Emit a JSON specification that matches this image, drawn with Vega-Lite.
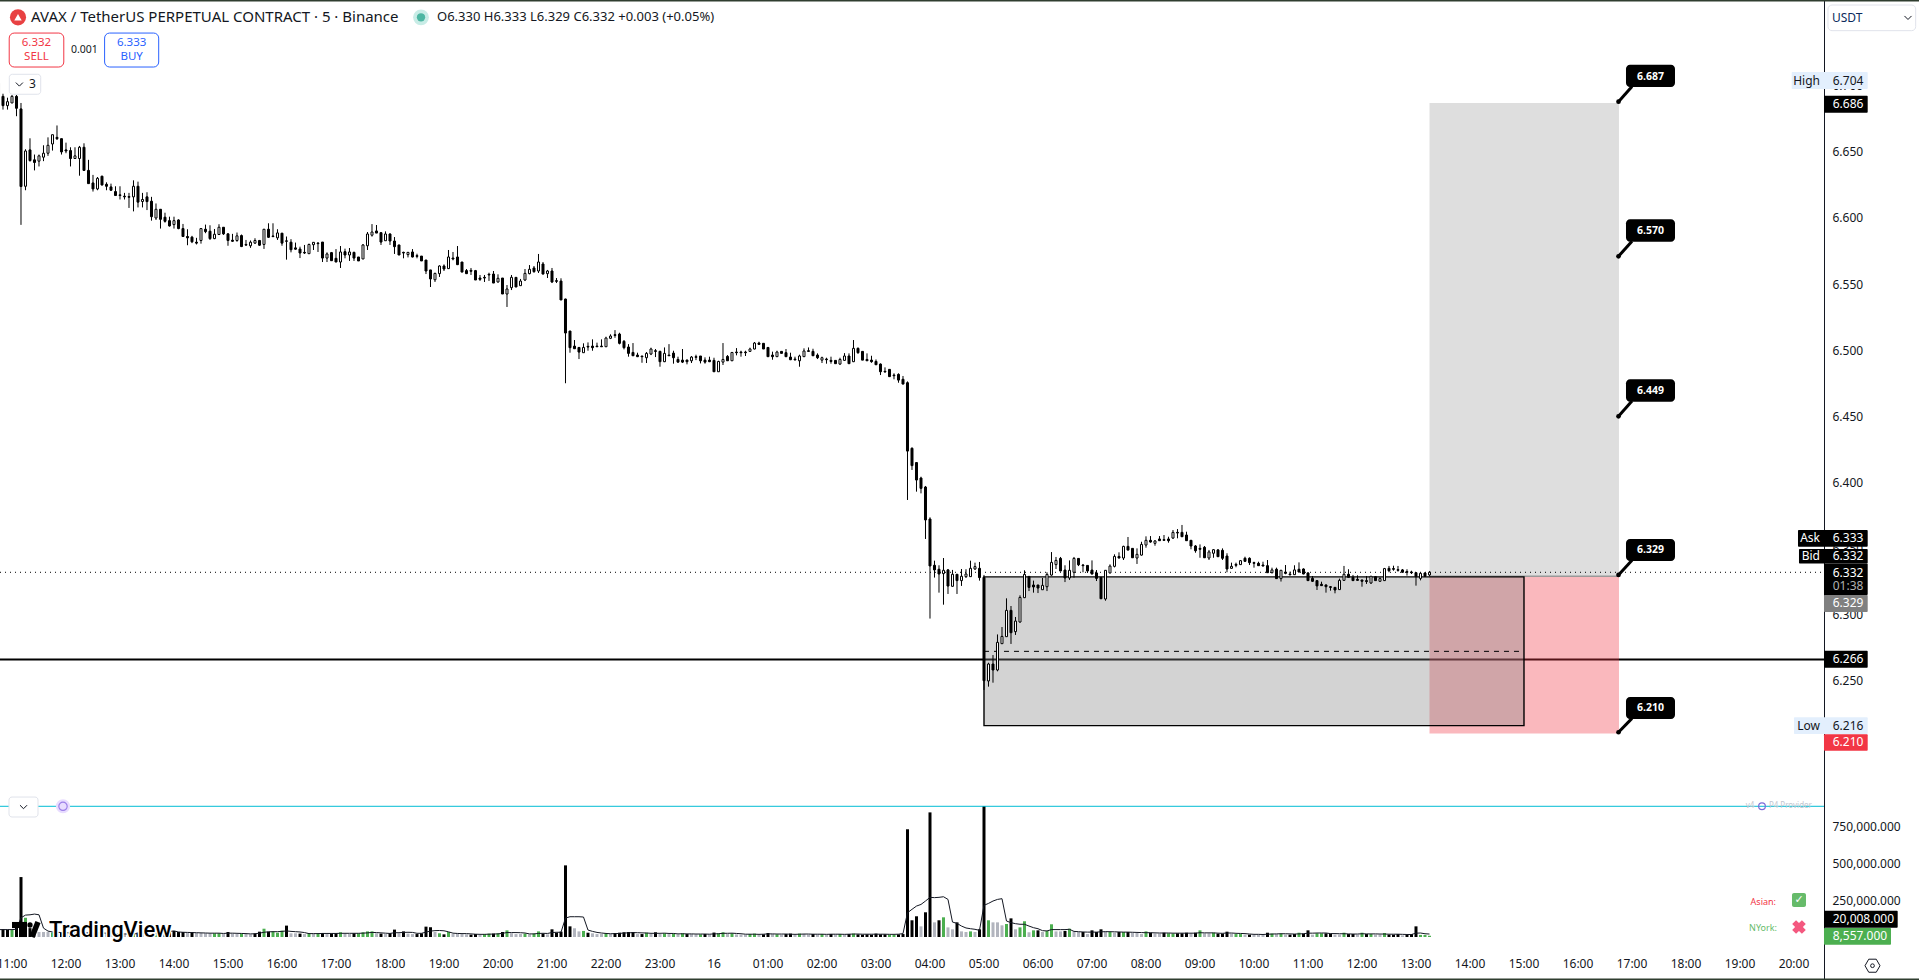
{
  "$schema": "https://vega.github.io/schema/vega-lite/v6.json",
  "width": 1919,
  "height": 980,
  "padding": 0,
  "autosize": {"type": "none"},
  "background": "white",
  "config": {"font": "Noto Sans", "view": {"stroke": null}, "text": {"baseline": "middle"}},
  "datasets": {
    "bars": [
{"t":"2026-01-15T10:45Z","o":6.702,"h":6.704,"l":6.692,"c":6.694,"v":50000,"m":50000,"k":"d"},
{"t":"2026-01-15T10:50Z","o":6.692,"h":6.694,"l":6.682,"c":6.685,"v":52000,"m":50000,"k":"d"},
{"t":"2026-01-15T10:55Z","o":6.685,"h":6.691,"l":6.682,"c":6.688,"v":50000,"m":50000,"k":"d"},
{"t":"2026-01-15T11:00Z","o":6.687,"h":6.693,"l":6.687,"c":6.692,"v":50000,"m":50000,"k":"u"},
{"t":"2026-01-15T11:05Z","o":6.692,"h":6.693,"l":6.677,"c":6.683,"v":65000,"m":52000,"k":"d"},
{"t":"2026-01-15T11:10Z","o":6.6825,"h":6.687,"l":6.5948,"c":6.6238,"v":405000,"m":130000,"k":"d"},
{"t":"2026-01-15T11:15Z","o":6.624,"h":6.652,"l":6.621,"c":6.6507,"v":130000,"m":148000,"k":"u"},
{"t":"2026-01-15T11:20Z","o":6.6515,"h":6.6603,"l":6.6427,"c":6.6434,"v":60000,"m":150000,"k":"d"},
{"t":"2026-01-15T11:25Z","o":6.644,"h":6.648,"l":6.636,"c":6.642,"v":40000,"m":155000,"k":"n"},
{"t":"2026-01-15T11:30Z","o":6.643,"h":6.648,"l":6.639,"c":6.647,"v":34000,"m":150000,"k":"n"},
{"t":"2026-01-15T11:35Z","o":6.646,"h":6.655,"l":6.643,"c":6.649,"v":34000,"m":60000,"k":"n"},
{"t":"2026-01-15T11:40Z","o":6.649,"h":6.661,"l":6.647,"c":6.655,"v":34000,"m":40000,"k":"n"},
{"t":"2026-01-15T11:45Z","o":6.656,"h":6.663,"l":6.651,"c":6.663,"v":30000,"m":34000,"k":"u"},
{"t":"2026-01-15T11:50Z","o":6.661,"h":6.67,"l":6.659,"c":6.66,"v":25000,"m":32000,"k":"n"},
{"t":"2026-01-15T11:55Z","o":6.66,"h":6.66,"l":6.648,"c":6.65,"v":30000,"m":30000,"k":"d"},
{"t":"2026-01-15T12:00Z","o":6.6515,"h":6.657,"l":6.649,"c":6.6507,"v":25000,"m":29000,"k":"n"},
{"t":"2026-01-15T12:05Z","o":6.651,"h":6.6535,"l":6.639,"c":6.645,"v":25000,"m":27000,"k":"d"},
{"t":"2026-01-15T12:10Z","o":6.645,"h":6.6535,"l":6.645,"c":6.647,"v":20000,"m":26000,"k":"n"},
{"t":"2026-01-15T12:15Z","o":6.645,"h":6.6545,"l":6.632,"c":6.6535,"v":30000,"m":26000,"k":"u"},
{"t":"2026-01-15T12:20Z","o":6.6535,"h":6.6565,"l":6.6356,"c":6.636,"v":30000,"m":26000,"k":"d"},
{"t":"2026-01-15T12:25Z","o":6.636,"h":6.644,"l":6.626,"c":6.626,"v":30000,"m":27000,"k":"d"},
{"t":"2026-01-15T12:30Z","o":6.6265,"h":6.6326,"l":6.62,"c":6.622,"v":25000,"m":27000,"k":"d"},
{"t":"2026-01-15T12:35Z","o":6.622,"h":6.631,"l":6.621,"c":6.63,"v":25000,"m":28000,"k":"u"},
{"t":"2026-01-15T12:40Z","o":6.6316,"h":6.632,"l":6.6245,"c":6.625,"v":25000,"m":27000,"k":"d"},
{"t":"2026-01-15T12:45Z","o":6.6255,"h":6.627,"l":6.621,"c":6.624,"v":25000,"m":26000,"k":"n"},
{"t":"2026-01-15T12:50Z","o":6.6235,"h":6.626,"l":6.6205,"c":6.621,"v":20000,"m":25000,"k":"n"},
{"t":"2026-01-15T12:55Z","o":6.62,"h":6.624,"l":6.617,"c":6.617,"v":20000,"m":24000,"k":"d"},
{"t":"2026-01-15T13:00Z","o":6.6175,"h":6.624,"l":6.614,"c":6.617,"v":20000,"m":22000,"k":"n"},
{"t":"2026-01-15T13:05Z","o":6.6165,"h":6.619,"l":6.614,"c":6.616,"v":20000,"m":21000,"k":"n"},
{"t":"2026-01-15T13:10Z","o":6.6162,"h":6.619,"l":6.6076,"c":6.6157,"v":20000,"m":20000,"k":"n"},
{"t":"2026-01-15T13:15Z","o":6.616,"h":6.6285,"l":6.605,"c":6.624,"v":25000,"m":21000,"k":"u"},
{"t":"2026-01-15T13:20Z","o":6.624,"h":6.6275,"l":6.608,"c":6.612,"v":30000,"m":23000,"k":"d"},
{"t":"2026-01-15T13:25Z","o":6.6125,"h":6.619,"l":6.608,"c":6.614,"v":20000,"m":23000,"k":"n"},
{"t":"2026-01-15T13:30Z","o":6.616,"h":6.6195,"l":6.606,"c":6.6124,"v":20000,"m":23000,"k":"n"},
{"t":"2026-01-15T13:35Z","o":6.6127,"h":6.616,"l":6.598,"c":6.601,"v":35000,"m":26000,"k":"d"},
{"t":"2026-01-15T13:40Z","o":6.6,"h":6.611,"l":6.5985,"c":6.6066,"v":25000,"m":26000,"k":"u"},
{"t":"2026-01-15T13:45Z","o":6.6066,"h":6.6066,"l":6.592,"c":6.599,"v":25000,"m":25000,"k":"d"},
{"t":"2026-01-15T13:50Z","o":6.6006,"h":6.604,"l":6.5965,"c":6.5975,"v":25000,"m":27000,"k":"d"},
{"t":"2026-01-15T13:55Z","o":6.598,"h":6.601,"l":6.5935,"c":6.594,"v":34000,"m":38000,"k":"d"},
{"t":"2026-01-15T14:00Z","o":6.595,"h":6.601,"l":6.592,"c":6.598,"v":41000,"m":41000,"k":"d"},
{"t":"2026-01-15T14:05Z","o":6.5985,"h":6.599,"l":6.5915,"c":6.592,"v":34000,"m":34000,"k":"d"},
{"t":"2026-01-15T14:10Z","o":6.592,"h":6.5955,"l":6.586,"c":6.586,"v":34000,"m":32000,"k":"d"},
{"t":"2026-01-15T14:15Z","o":6.586,"h":6.5915,"l":6.5794,"c":6.585,"v":29000,"m":31000,"k":"n"},
{"t":"2026-01-15T14:20Z","o":6.5855,"h":6.5865,"l":6.581,"c":6.582,"v":34000,"m":30000,"k":"d"},
{"t":"2026-01-15T14:25Z","o":6.5817,"h":6.585,"l":6.58,"c":6.581,"v":27000,"m":29000,"k":"n"},
{"t":"2026-01-15T14:30Z","o":6.583,"h":6.5923,"l":6.5806,"c":6.592,"v":27000,"m":28000,"k":"n"},
{"t":"2026-01-15T14:35Z","o":6.5915,"h":6.595,"l":6.5885,"c":6.5897,"v":25000,"m":27000,"k":"n"},
{"t":"2026-01-15T14:40Z","o":6.59,"h":6.5945,"l":6.5834,"c":6.5844,"v":25000,"m":26000,"k":"n"},
{"t":"2026-01-15T14:45Z","o":6.5844,"h":6.5917,"l":6.584,"c":6.5877,"v":25000,"m":26000,"k":"u"},
{"t":"2026-01-15T14:50Z","o":6.5875,"h":6.5953,"l":6.5872,"c":6.593,"v":25000,"m":26000,"k":"u"},
{"t":"2026-01-15T14:55Z","o":6.593,"h":6.593,"l":6.5872,"c":6.588,"v":20000,"m":24000,"k":"n"},
{"t":"2026-01-15T15:00Z","o":6.588,"h":6.5885,"l":6.579,"c":6.583,"v":34000,"m":26000,"k":"d"},
{"t":"2026-01-15T15:05Z","o":6.5832,"h":6.588,"l":6.582,"c":6.5824,"v":23000,"m":26000,"k":"n"},
{"t":"2026-01-15T15:10Z","o":6.583,"h":6.589,"l":6.582,"c":6.5865,"v":20000,"m":25000,"k":"n"},
{"t":"2026-01-15T15:15Z","o":6.5867,"h":6.5875,"l":6.578,"c":6.5784,"v":23000,"m":24000,"k":"u"},
{"t":"2026-01-15T15:20Z","o":6.58,"h":6.5834,"l":6.579,"c":6.5795,"v":20000,"m":23000,"k":"n"},
{"t":"2026-01-15T15:25Z","o":6.579,"h":6.583,"l":6.5774,"c":6.5817,"v":18000,"m":21000,"k":"n"},
{"t":"2026-01-15T15:30Z","o":6.581,"h":6.5847,"l":6.5804,"c":6.583,"v":23000,"m":22000,"k":"d"},
{"t":"2026-01-15T15:35Z","o":6.583,"h":6.5834,"l":6.579,"c":6.5794,"v":36000,"m":26000,"k":"d"},
{"t":"2026-01-15T15:40Z","o":6.58,"h":6.5917,"l":6.5766,"c":6.5915,"v":56000,"m":32000,"k":"u"},
{"t":"2026-01-15T15:45Z","o":6.5915,"h":6.596,"l":6.585,"c":6.5854,"v":36000,"m":35000,"k":"d"},
{"t":"2026-01-15T15:50Z","o":6.5864,"h":6.596,"l":6.5854,"c":6.586,"v":38000,"m":36000,"k":"u"},
{"t":"2026-01-15T15:55Z","o":6.585,"h":6.5915,"l":6.5834,"c":6.5887,"v":29000,"m":36000,"k":"u"},
{"t":"2026-01-15T16:00Z","o":6.5885,"h":6.5887,"l":6.579,"c":6.581,"v":43000,"m":38000,"k":"u"},
{"t":"2026-01-15T16:05Z","o":6.5827,"h":6.586,"l":6.5685,"c":6.5824,"v":77000,"m":41000,"k":"d"},
{"t":"2026-01-15T16:10Z","o":6.5817,"h":6.584,"l":6.574,"c":6.576,"v":25000,"m":38000,"k":"n"},
{"t":"2026-01-15T16:15Z","o":6.5774,"h":6.5814,"l":6.576,"c":6.5764,"v":25000,"m":36000,"k":"n"},
{"t":"2026-01-15T16:20Z","o":6.5765,"h":6.5783,"l":6.5697,"c":6.5735,"v":23000,"m":34000,"k":"d"},
{"t":"2026-01-15T16:25Z","o":6.574,"h":6.5796,"l":6.5728,"c":6.5735,"v":20000,"m":30000,"k":"n"},
{"t":"2026-01-15T16:30Z","o":6.573,"h":6.5806,"l":6.5728,"c":6.58,"v":25000,"m":23000,"k":"u"},
{"t":"2026-01-15T16:35Z","o":6.5798,"h":6.5818,"l":6.5758,"c":6.5816,"v":23000,"m":23000,"k":"n"},
{"t":"2026-01-15T16:40Z","o":6.581,"h":6.5818,"l":6.5743,"c":6.5806,"v":25000,"m":23000,"k":"u"},
{"t":"2026-01-15T16:45Z","o":6.5818,"h":6.5818,"l":6.5667,"c":6.5697,"v":27000,"m":24000,"k":"d"},
{"t":"2026-01-15T16:50Z","o":6.5697,"h":6.574,"l":6.5667,"c":6.5728,"v":20000,"m":24000,"k":"n"},
{"t":"2026-01-15T16:55Z","o":6.5738,"h":6.5743,"l":6.5675,"c":6.5677,"v":25000,"m":24000,"k":"d"},
{"t":"2026-01-15T17:00Z","o":6.5695,"h":6.5765,"l":6.5667,"c":6.5667,"v":25000,"m":24000,"k":"d"},
{"t":"2026-01-15T17:05Z","o":6.5667,"h":6.5788,"l":6.5622,"c":6.5743,"v":32000,"m":25000,"k":"u"},
{"t":"2026-01-15T17:10Z","o":6.5745,"h":6.5768,"l":6.5695,"c":6.572,"v":23000,"m":25000,"k":"n"},
{"t":"2026-01-15T17:15Z","o":6.572,"h":6.5773,"l":6.5675,"c":6.5743,"v":20000,"m":25000,"k":"n"},
{"t":"2026-01-15T17:20Z","o":6.574,"h":6.5745,"l":6.5675,"c":6.5697,"v":25000,"m":25000,"k":"d"},
{"t":"2026-01-15T17:25Z","o":6.5705,"h":6.5705,"l":6.5675,"c":6.5675,"v":25000,"m":25000,"k":"u"},
{"t":"2026-01-15T17:30Z","o":6.569,"h":6.5803,"l":6.569,"c":6.5796,"v":32000,"m":26000,"k":"u"},
{"t":"2026-01-15T17:35Z","o":6.579,"h":6.5894,"l":6.5758,"c":6.5879,"v":38000,"m":28000,"k":"u"},
{"t":"2026-01-15T17:40Z","o":6.587,"h":6.5954,"l":6.5859,"c":6.5894,"v":38000,"m":31000,"k":"u"},
{"t":"2026-01-15T17:45Z","o":6.5902,"h":6.5947,"l":6.5886,"c":6.5886,"v":25000,"m":30000,"k":"n"},
{"t":"2026-01-15T17:50Z","o":6.5889,"h":6.5891,"l":6.5796,"c":6.5818,"v":23000,"m":28000,"k":"d"},
{"t":"2026-01-15T17:55Z","o":6.5828,"h":6.5899,"l":6.5826,"c":6.5879,"v":20000,"m":26000,"k":"n"},
{"t":"2026-01-15T18:00Z","o":6.5879,"h":6.5884,"l":6.5796,"c":6.5826,"v":25000,"m":24000,"k":"d"},
{"t":"2026-01-15T18:05Z","o":6.5826,"h":6.5856,"l":6.5728,"c":6.5783,"v":50000,"m":29000,"k":"d"},
{"t":"2026-01-15T18:10Z","o":6.5796,"h":6.5796,"l":6.572,"c":6.572,"v":25000,"m":29000,"k":"n"},
{"t":"2026-01-15T18:15Z","o":6.574,"h":6.5745,"l":6.5695,"c":6.5735,"v":38000,"m":31000,"k":"d"},
{"t":"2026-01-15T18:20Z","o":6.5723,"h":6.5743,"l":6.5702,"c":6.574,"v":23000,"m":32000,"k":"n"},
{"t":"2026-01-15T18:25Z","o":6.5743,"h":6.5765,"l":6.5702,"c":6.5705,"v":20000,"m":31000,"k":"n"},
{"t":"2026-01-15T18:30Z","o":6.5715,"h":6.573,"l":6.5695,"c":6.571,"v":20000,"m":25000,"k":"d"},
{"t":"2026-01-15T18:35Z","o":6.5712,"h":6.5712,"l":6.5675,"c":6.5675,"v":25000,"m":25000,"k":"d"},
{"t":"2026-01-15T18:40Z","o":6.5682,"h":6.5682,"l":6.5576,"c":6.5599,"v":70000,"m":33000,"k":"d"},
{"t":"2026-01-15T18:45Z","o":6.5607,"h":6.5607,"l":6.5478,"c":6.5539,"v":66000,"m":40000,"k":"d"},
{"t":"2026-01-15T18:50Z","o":6.5533,"h":6.5586,"l":6.5516,"c":6.5581,"v":34000,"m":43000,"k":"n"},
{"t":"2026-01-15T18:55Z","o":6.5579,"h":6.5642,"l":6.5554,"c":6.5637,"v":25000,"m":44000,"k":"u"},
{"t":"2026-01-15T19:00Z","o":6.5637,"h":6.5649,"l":6.5599,"c":6.5614,"v":18000,"m":42000,"k":"d"},
{"t":"2026-01-15T19:05Z","o":6.5617,"h":6.5758,"l":6.5614,"c":6.5705,"v":34000,"m":35000,"k":"u"},
{"t":"2026-01-15T19:10Z","o":6.5697,"h":6.5743,"l":6.568,"c":6.569,"v":20000,"m":26000,"k":"n"},
{"t":"2026-01-15T19:15Z","o":6.5705,"h":6.5788,"l":6.5644,"c":6.5647,"v":23000,"m":24000,"k":"n"},
{"t":"2026-01-15T19:20Z","o":6.5667,"h":6.5667,"l":6.5591,"c":6.5591,"v":20000,"m":23000,"k":"n"},
{"t":"2026-01-15T19:25Z","o":6.5602,"h":6.5614,"l":6.5576,"c":6.5579,"v":18000,"m":23000,"k":"n"},
{"t":"2026-01-15T19:30Z","o":6.5604,"h":6.5622,"l":6.5569,"c":6.5597,"v":16000,"m":21000,"k":"d"},
{"t":"2026-01-15T19:35Z","o":6.5602,"h":6.5607,"l":6.5531,"c":6.5531,"v":20000,"m":19000,"k":"d"},
{"t":"2026-01-15T19:40Z","o":6.5546,"h":6.5569,"l":6.5524,"c":6.5536,"v":16000,"m":18000,"k":"n"},
{"t":"2026-01-15T19:45Z","o":6.5551,"h":6.5569,"l":6.5516,"c":6.5546,"v":20000,"m":18000,"k":"u"},
{"t":"2026-01-15T19:50Z","o":6.5574,"h":6.5586,"l":6.5524,"c":6.5569,"v":23000,"m":19000,"k":"u"},
{"t":"2026-01-15T19:55Z","o":6.5576,"h":6.5599,"l":6.5508,"c":6.5508,"v":23000,"m":20000,"k":"d"},
{"t":"2026-01-15T20:00Z","o":6.5516,"h":6.5574,"l":6.5511,"c":6.5544,"v":25000,"m":21000,"k":"u"},
{"t":"2026-01-15T20:05Z","o":6.5546,"h":6.5546,"l":6.5425,"c":6.5425,"v":34000,"m":25000,"k":"d"},
{"t":"2026-01-15T20:10Z","o":6.5425,"h":6.5493,"l":6.5327,"c":6.5463,"v":45000,"m":30000,"k":"u"},
{"t":"2026-01-15T20:15Z","o":6.5473,"h":6.5569,"l":6.5455,"c":6.5551,"v":25000,"m":30000,"k":"n"},
{"t":"2026-01-15T20:20Z","o":6.5551,"h":6.5551,"l":6.5478,"c":6.5478,"v":20000,"m":30000,"k":"n"},
{"t":"2026-01-15T20:25Z","o":6.5488,"h":6.5539,"l":6.5486,"c":6.5523,"v":20000,"m":29000,"k":"n"},
{"t":"2026-01-15T20:30Z","o":6.5531,"h":6.5614,"l":6.5523,"c":6.5581,"v":23000,"m":27000,"k":"u"},
{"t":"2026-01-15T20:35Z","o":6.5579,"h":6.5644,"l":6.5574,"c":6.5612,"v":18000,"m":21000,"k":"n"},
{"t":"2026-01-15T20:40Z","o":6.5622,"h":6.5637,"l":6.5586,"c":6.5594,"v":23000,"m":21000,"k":"u"},
{"t":"2026-01-15T20:45Z","o":6.5599,"h":6.5728,"l":6.5584,"c":6.5667,"v":38000,"m":24000,"k":"u"},
{"t":"2026-01-15T20:50Z","o":6.5652,"h":6.5667,"l":6.5574,"c":6.5576,"v":23000,"m":25000,"k":"d"},
{"t":"2026-01-15T20:55Z","o":6.5579,"h":6.5607,"l":6.5546,"c":6.5599,"v":18000,"m":24000,"k":"n"},
{"t":"2026-01-15T21:00Z","o":6.5599,"h":6.5622,"l":6.5508,"c":6.5516,"v":52000,"m":30000,"k":"d"},
{"t":"2026-01-15T21:05Z","o":6.5526,"h":6.5546,"l":6.5508,"c":6.5521,"v":30000,"m":32000,"k":"d"},
{"t":"2026-01-15T21:10Z","o":6.5523,"h":6.5544,"l":6.538,"c":6.538,"v":36000,"m":32000,"k":"d"},
{"t":"2026-01-15T21:15Z","o":6.5387,"h":6.539,"l":6.475,"c":6.513,"v":484000,"m":128000,"k":"d"},
{"t":"2026-01-15T21:20Z","o":6.5145,"h":6.5145,"l":6.4981,"c":6.5019,"v":72000,"m":137000,"k":"d"},
{"t":"2026-01-15T21:25Z","o":6.5031,"h":6.5077,"l":6.5011,"c":6.5011,"v":59000,"m":137000,"k":"n"},
{"t":"2026-01-15T21:30Z","o":6.5021,"h":6.5021,"l":6.4933,"c":6.4986,"v":38000,"m":137000,"k":"n"},
{"t":"2026-01-15T21:35Z","o":6.4981,"h":6.5052,"l":6.4981,"c":6.5021,"v":41000,"m":135000,"k":"u"},
{"t":"2026-01-15T21:40Z","o":6.5029,"h":6.5059,"l":6.4996,"c":6.5024,"v":29000,"m":47000,"k":"d"},
{"t":"2026-01-15T21:45Z","o":6.5031,"h":6.5082,"l":6.4996,"c":6.5019,"v":25000,"m":38000,"k":"n"},
{"t":"2026-01-15T21:50Z","o":6.5031,"h":6.5057,"l":6.5026,"c":6.5026,"v":20000,"m":31000,"k":"n"},
{"t":"2026-01-15T21:55Z","o":6.5031,"h":6.5082,"l":6.5026,"c":6.5026,"v":20000,"m":27000,"k":"n"},
{"t":"2026-01-15T22:00Z","o":6.5026,"h":6.5102,"l":6.5026,"c":6.5092,"v":25000,"m":24000,"k":"u"},
{"t":"2026-01-15T22:05Z","o":6.509,"h":6.512,"l":6.5084,"c":6.5107,"v":20000,"m":22000,"k":"n"},
{"t":"2026-01-15T22:10Z","o":6.5117,"h":6.5152,"l":6.5094,"c":6.5112,"v":27000,"m":23000,"k":"d"},
{"t":"2026-01-15T22:15Z","o":6.5122,"h":6.5132,"l":6.5044,"c":6.5052,"v":29000,"m":24000,"k":"d"},
{"t":"2026-01-15T22:20Z","o":6.5067,"h":6.5077,"l":6.5006,"c":6.5019,"v":32000,"m":27000,"k":"d"},
{"t":"2026-01-15T22:25Z","o":6.5024,"h":6.5046,"l":6.4951,"c":6.4976,"v":34000,"m":28000,"k":"d"},
{"t":"2026-01-15T22:30Z","o":6.4983,"h":6.5054,"l":6.4956,"c":6.4958,"v":34000,"m":30000,"k":"d"},
{"t":"2026-01-15T22:35Z","o":6.4963,"h":6.4981,"l":6.4948,"c":6.4951,"v":20000,"m":29000,"k":"n"},
{"t":"2026-01-15T22:40Z","o":6.4956,"h":6.4956,"l":6.4905,"c":6.4951,"v":20000,"m":28000,"k":"d"},
{"t":"2026-01-15T22:45Z","o":6.4943,"h":6.4986,"l":6.4903,"c":6.4976,"v":29000,"m":27000,"k":"u"},
{"t":"2026-01-15T22:50Z","o":6.4971,"h":6.5019,"l":6.4963,"c":6.5009,"v":23000,"m":25000,"k":"n"},
{"t":"2026-01-15T22:55Z","o":6.4996,"h":6.5009,"l":6.4948,"c":6.4991,"v":32000,"m":25000,"k":"d"},
{"t":"2026-01-15T23:00Z","o":6.4991,"h":6.4996,"l":6.4875,"c":6.4913,"v":20000,"m":25000,"k":"n"},
{"t":"2026-01-15T23:05Z","o":6.4913,"h":6.5021,"l":6.491,"c":6.4976,"v":25000,"m":26000,"k":"u"},
{"t":"2026-01-15T23:10Z","o":6.4963,"h":6.5046,"l":6.4956,"c":6.4958,"v":20000,"m":24000,"k":"n"},
{"t":"2026-01-15T23:15Z","o":6.4978,"h":6.4996,"l":6.4898,"c":6.4943,"v":23000,"m":24000,"k":"u"},
{"t":"2026-01-15T23:20Z","o":6.493,"h":6.4951,"l":6.4905,"c":6.491,"v":18000,"m":21000,"k":"n"},
{"t":"2026-01-15T23:25Z","o":6.4925,"h":6.5009,"l":6.4903,"c":6.491,"v":25000,"m":22000,"k":"u"},
{"t":"2026-01-15T23:30Z","o":6.4925,"h":6.493,"l":6.4893,"c":6.4913,"v":20000,"m":21000,"k":"d"},
{"t":"2026-01-15T23:35Z","o":6.492,"h":6.4956,"l":6.4903,"c":6.4948,"v":20000,"m":21000,"k":"n"},
{"t":"2026-01-15T23:40Z","o":6.4951,"h":6.4966,"l":6.4925,"c":6.4946,"v":18000,"m":20000,"k":"n"},
{"t":"2026-01-15T23:45Z","o":6.4956,"h":6.4956,"l":6.49,"c":6.492,"v":18000,"m":20000,"k":"u"},
{"t":"2026-01-15T23:50Z","o":6.4925,"h":6.4946,"l":6.4898,"c":6.491,"v":20000,"m":20000,"k":"d"},
{"t":"2026-01-15T23:55Z","o":6.4925,"h":6.4951,"l":6.491,"c":6.4913,"v":18000,"m":19000,"k":"n"},
{"t":"2026-01-16T00:00Z","o":6.4923,"h":6.4943,"l":6.4837,"c":6.4837,"v":30000,"m":21000,"k":"d"},
{"t":"2026-01-16T00:05Z","o":6.4837,"h":6.492,"l":6.4837,"c":6.4915,"v":25000,"m":22000,"k":"u"},
{"t":"2026-01-16T00:10Z","o":6.491,"h":6.5054,"l":6.4888,"c":6.493,"v":32000,"m":25000,"k":"u"},
{"t":"2026-01-16T00:15Z","o":6.4953,"h":6.4963,"l":6.492,"c":6.492,"v":20000,"m":25000,"k":"n"},
{"t":"2026-01-16T00:20Z","o":6.492,"h":6.4986,"l":6.4918,"c":6.4983,"v":25000,"m":26000,"k":"u"},
{"t":"2026-01-16T00:25Z","o":6.4986,"h":6.5016,"l":6.4961,"c":6.4981,"v":18000,"m":24000,"k":"n"},
{"t":"2026-01-16T00:30Z","o":6.4986,"h":6.4996,"l":6.4951,"c":6.4981,"v":16000,"m":22000,"k":"n"},
{"t":"2026-01-16T00:35Z","o":6.4986,"h":6.4996,"l":6.4956,"c":6.4981,"v":16000,"m":19000,"k":"n"},
{"t":"2026-01-16T00:40Z","o":6.4991,"h":6.5019,"l":6.4989,"c":6.5009,"v":20000,"m":19000,"k":"u"},
{"t":"2026-01-16T00:45Z","o":6.5009,"h":6.5062,"l":6.5006,"c":6.5054,"v":23000,"m":19000,"k":"u"},
{"t":"2026-01-16T00:50Z","o":6.5054,"h":6.5064,"l":6.5041,"c":6.5044,"v":16000,"m":18000,"k":"n"},
{"t":"2026-01-16T00:55Z","o":6.5052,"h":6.5052,"l":6.5009,"c":6.5009,"v":18000,"m":19000,"k":"d"},
{"t":"2026-01-16T01:00Z","o":6.5021,"h":6.5021,"l":6.4951,"c":6.4951,"v":27000,"m":21000,"k":"d"},
{"t":"2026-01-16T01:05Z","o":6.4963,"h":6.4989,"l":6.4928,"c":6.4951,"v":20000,"m":21000,"k":"n"},
{"t":"2026-01-16T01:10Z","o":6.4951,"h":6.4996,"l":6.4951,"c":6.4986,"v":18000,"m":20000,"k":"u"},
{"t":"2026-01-16T01:15Z","o":6.4991,"h":6.4994,"l":6.4976,"c":6.4976,"v":16000,"m":20000,"k":"n"},
{"t":"2026-01-16T01:20Z","o":6.4981,"h":6.5009,"l":6.4948,"c":6.4951,"v":20000,"m":20000,"k":"d"},
{"t":"2026-01-16T01:25Z","o":6.4948,"h":6.4981,"l":6.4925,"c":6.4928,"v":23000,"m":19000,"k":"d"},
{"t":"2026-01-16T01:30Z","o":6.4933,"h":6.4951,"l":6.492,"c":6.4928,"v":16000,"m":18000,"k":"n"},
{"t":"2026-01-16T01:35Z","o":6.492,"h":6.4966,"l":6.4875,"c":6.4956,"v":23000,"m":19000,"k":"u"},
{"t":"2026-01-16T01:40Z","o":6.4951,"h":6.5014,"l":6.4951,"c":6.4994,"v":20000,"m":20000,"k":"n"},
{"t":"2026-01-16T01:45Z","o":6.4996,"h":6.5021,"l":6.4989,"c":6.4991,"v":16000,"m":20000,"k":"n"},
{"t":"2026-01-16T01:50Z","o":6.4991,"h":6.5011,"l":6.4956,"c":6.4958,"v":20000,"m":19000,"k":"d"},
{"t":"2026-01-16T01:55Z","o":6.4963,"h":6.4976,"l":6.4933,"c":6.4943,"v":18000,"m":19000,"k":"n"},
{"t":"2026-01-16T02:00Z","o":6.4925,"h":6.4951,"l":6.4903,"c":6.4943,"v":20000,"m":19000,"k":"u"},
{"t":"2026-01-16T02:05Z","o":6.4933,"h":6.4943,"l":6.4898,"c":6.4928,"v":16000,"m":18000,"k":"n"},
{"t":"2026-01-16T02:10Z","o":6.4923,"h":6.4951,"l":6.4898,"c":6.4915,"v":20000,"m":19000,"k":"d"},
{"t":"2026-01-16T02:15Z","o":6.4923,"h":6.4925,"l":6.4898,"c":6.4898,"v":18000,"m":19000,"k":"n"},
{"t":"2026-01-16T02:20Z","o":6.4895,"h":6.4943,"l":6.489,"c":6.493,"v":20000,"m":19000,"k":"u"},
{"t":"2026-01-16T02:25Z","o":6.4923,"h":6.4978,"l":6.492,"c":6.4956,"v":18000,"m":18000,"k":"n"},
{"t":"2026-01-16T02:30Z","o":6.4956,"h":6.4976,"l":6.4898,"c":6.4898,"v":20000,"m":19000,"k":"d"},
{"t":"2026-01-16T02:35Z","o":6.4913,"h":6.5077,"l":6.491,"c":6.5014,"v":23000,"m":20000,"k":"u"},
{"t":"2026-01-16T02:40Z","o":6.5014,"h":6.5021,"l":6.4973,"c":6.4981,"v":18000,"m":20000,"k":"d"},
{"t":"2026-01-16T02:45Z","o":6.4991,"h":6.4991,"l":6.4925,"c":6.4925,"v":16000,"m":19000,"k":"d"},
{"t":"2026-01-16T02:50Z","o":6.493,"h":6.4976,"l":6.492,"c":6.492,"v":18000,"m":19000,"k":"d"},
{"t":"2026-01-16T02:55Z","o":6.4925,"h":6.4958,"l":6.4905,"c":6.4913,"v":16000,"m":19000,"k":"d"},
{"t":"2026-01-16T03:00Z","o":6.4915,"h":6.493,"l":6.4888,"c":6.489,"v":23000,"m":19000,"k":"d"},
{"t":"2026-01-16T03:05Z","o":6.4895,"h":6.49,"l":6.4812,"c":6.4837,"v":18000,"m":19000,"k":"d"},
{"t":"2026-01-16T03:10Z","o":6.484,"h":6.487,"l":6.4832,"c":6.4835,"v":18000,"m":19000,"k":"d"},
{"t":"2026-01-16T03:15Z","o":6.4855,"h":6.4857,"l":6.4797,"c":6.48,"v":16000,"m":18000,"k":"u"},
{"t":"2026-01-16T03:20Z","o":6.4812,"h":6.4825,"l":6.478,"c":6.4807,"v":16000,"m":18000,"k":"u"},
{"t":"2026-01-16T03:25Z","o":6.4817,"h":6.4825,"l":6.4754,"c":6.4774,"v":18000,"m":19000,"k":"d"},
{"t":"2026-01-16T03:30Z","o":6.478,"h":6.4805,"l":6.4742,"c":6.4744,"v":20000,"m":23000,"k":"d"},
{"t":"2026-01-16T03:35Z","o":6.4754,"h":6.4764,"l":6.3867,"c":6.4237,"v":728000,"m":164000,"k":"d"},
{"t":"2026-01-16T03:40Z","o":6.4258,"h":6.4265,"l":6.4094,"c":6.4127,"v":113000,"m":187000,"k":"d"},
{"t":"2026-01-16T03:45Z","o":6.415,"h":6.4154,"l":6.393,"c":6.4018,"v":140000,"m":209000,"k":"d"},
{"t":"2026-01-16T03:50Z","o":6.4033,"h":6.4043,"l":6.3917,"c":6.3955,"v":72000,"m":220000,"k":"n"},
{"t":"2026-01-16T03:55Z","o":6.3965,"h":6.3973,"l":6.3572,"c":6.3716,"v":167000,"m":243000,"k":"d"},
{"t":"2026-01-16T04:00Z","o":6.3723,"h":6.3736,"l":6.297,"c":6.3368,"v":842000,"m":268000,"k":"d"},
{"t":"2026-01-16T04:05Z","o":6.3373,"h":6.3408,"l":6.328,"c":6.3338,"v":99000,"m":266000,"k":"n"},
{"t":"2026-01-16T04:10Z","o":6.3343,"h":6.3373,"l":6.3166,"c":6.3307,"v":113000,"m":268000,"k":"d"},
{"t":"2026-01-16T04:15Z","o":6.331,"h":6.3428,"l":6.3075,"c":6.3335,"v":133000,"m":272000,"k":"u"},
{"t":"2026-01-16T04:20Z","o":6.3338,"h":6.3345,"l":6.3156,"c":6.3216,"v":65000,"m":254000,"k":"n"},
{"t":"2026-01-16T04:25Z","o":6.3214,"h":6.3338,"l":6.3211,"c":6.3305,"v":52000,"m":101000,"k":"n"},
{"t":"2026-01-16T04:30Z","o":6.3305,"h":6.3305,"l":6.3156,"c":6.3257,"v":99000,"m":92000,"k":"d"},
{"t":"2026-01-16T04:35Z","o":6.3257,"h":6.3345,"l":6.3217,"c":6.329,"v":38000,"m":74000,"k":"n"},
{"t":"2026-01-16T04:40Z","o":6.3287,"h":6.3343,"l":6.3277,"c":6.3307,"v":34000,"m":61000,"k":"n"},
{"t":"2026-01-16T04:45Z","o":6.3287,"h":6.3408,"l":6.3285,"c":6.335,"v":38000,"m":56000,"k":"u"},
{"t":"2026-01-16T04:50Z","o":6.3345,"h":6.3393,"l":6.3338,"c":6.3363,"v":34000,"m":52000,"k":"n"},
{"t":"2026-01-16T04:55Z","o":6.335,"h":6.3398,"l":6.3257,"c":6.328,"v":52000,"m":45000,"k":"d"},
{"t":"2026-01-16T05:00Z","o":6.3282,"h":6.33,"l":6.243,"c":6.25,"v":885000,"m":214000,"k":"d"},
{"t":"2026-01-16T05:05Z","o":6.2498,"h":6.2636,"l":6.2455,"c":6.2626,"v":113000,"m":227000,"k":"u"},
{"t":"2026-01-16T05:10Z","o":6.2626,"h":6.2694,"l":6.2485,"c":6.2581,"v":99000,"m":243000,"k":"n"},
{"t":"2026-01-16T05:15Z","o":6.2581,"h":6.285,"l":6.2571,"c":6.279,"v":99000,"m":254000,"k":"n"},
{"t":"2026-01-16T05:20Z","o":6.278,"h":6.2906,"l":6.2778,"c":6.2835,"v":79000,"m":259000,"k":"n"},
{"t":"2026-01-16T05:25Z","o":6.2833,"h":6.3123,"l":6.2833,"c":6.3032,"v":88000,"m":108000,"k":"u"},
{"t":"2026-01-16T05:30Z","o":6.3032,"h":6.3065,"l":6.2778,"c":6.2863,"v":126000,"m":97000,"k":"d"},
{"t":"2026-01-16T05:35Z","o":6.2871,"h":6.2982,"l":6.2846,"c":6.2951,"v":52000,"m":90000,"k":"n"},
{"t":"2026-01-16T05:40Z","o":6.2944,"h":6.3146,"l":6.2939,"c":6.313,"v":65000,"m":86000,"k":"u"},
{"t":"2026-01-16T05:45Z","o":6.3128,"h":6.3335,"l":6.3125,"c":6.3304,"v":106000,"m":86000,"k":"u"},
{"t":"2026-01-16T05:50Z","o":6.3289,"h":6.3289,"l":6.3178,"c":6.3206,"v":32000,"m":74000,"k":"n"},
{"t":"2026-01-16T05:55Z","o":6.3224,"h":6.3257,"l":6.3166,"c":6.3209,"v":45000,"m":63000,"k":"u"},
{"t":"2026-01-16T06:00Z","o":6.3224,"h":6.3224,"l":6.3163,"c":6.3201,"v":45000,"m":56000,"k":"d"},
{"t":"2026-01-16T06:05Z","o":6.3188,"h":6.3277,"l":6.3186,"c":6.3221,"v":34000,"m":43000,"k":"n"},
{"t":"2026-01-16T06:10Z","o":6.3211,"h":6.332,"l":6.3178,"c":6.3304,"v":41000,"m":41000,"k":"u"},
{"t":"2026-01-16T06:15Z","o":6.3299,"h":6.3473,"l":6.3294,"c":6.3395,"v":86000,"m":50000,"k":"u"},
{"t":"2026-01-16T06:20Z","o":6.3378,"h":6.3436,"l":6.3345,"c":6.341,"v":38000,"m":50000,"k":"n"},
{"t":"2026-01-16T06:25Z","o":6.3425,"h":6.3436,"l":6.3327,"c":6.333,"v":38000,"m":50000,"k":"n"},
{"t":"2026-01-16T06:30Z","o":6.3337,"h":6.3373,"l":6.3246,"c":6.3277,"v":41000,"m":50000,"k":"d"},
{"t":"2026-01-16T06:35Z","o":6.3277,"h":6.341,"l":6.3262,"c":6.3335,"v":56000,"m":52000,"k":"u"},
{"t":"2026-01-16T06:40Z","o":6.332,"h":6.3436,"l":6.3279,"c":6.3425,"v":38000,"m":38000,"k":"n"},
{"t":"2026-01-16T06:45Z","o":6.3425,"h":6.3428,"l":6.3367,"c":6.3377,"v":34000,"m":36000,"k":"n"},
{"t":"2026-01-16T06:50Z","o":6.3375,"h":6.3383,"l":6.332,"c":6.337,"v":34000,"m":34000,"k":"d"},
{"t":"2026-01-16T06:55Z","o":6.3372,"h":6.3372,"l":6.3315,"c":6.333,"v":20000,"m":33000,"k":"n"},
{"t":"2026-01-16T07:00Z","o":6.3337,"h":6.341,"l":6.3304,"c":6.3307,"v":45000,"m":33000,"k":"d"},
{"t":"2026-01-16T07:05Z","o":6.3315,"h":6.3337,"l":6.3254,"c":6.3274,"v":34000,"m":33000,"k":"d"},
{"t":"2026-01-16T07:10Z","o":6.3282,"h":6.3282,"l":6.3118,"c":6.312,"v":52000,"m":35000,"k":"d"},
{"t":"2026-01-16T07:15Z","o":6.3118,"h":6.3337,"l":6.3105,"c":6.3335,"v":38000,"m":36000,"k":"n"},
{"t":"2026-01-16T07:20Z","o":6.3315,"h":6.338,"l":6.3312,"c":6.3367,"v":34000,"m":36000,"k":"u"},
{"t":"2026-01-16T07:25Z","o":6.3365,"h":6.3456,"l":6.3357,"c":6.344,"v":29000,"m":35000,"k":"n"},
{"t":"2026-01-16T07:30Z","o":6.344,"h":6.3471,"l":6.3425,"c":6.3428,"v":34000,"m":34000,"k":"d"},
{"t":"2026-01-16T07:35Z","o":6.3428,"h":6.3521,"l":6.3413,"c":6.3516,"v":34000,"m":33000,"k":"u"},
{"t":"2026-01-16T07:40Z","o":6.3516,"h":6.3587,"l":6.3488,"c":6.3488,"v":34000,"m":33000,"k":"d"},
{"t":"2026-01-16T07:45Z","o":6.3501,"h":6.3501,"l":6.343,"c":6.343,"v":29000,"m":32000,"k":"n"},
{"t":"2026-01-16T07:50Z","o":6.3428,"h":6.3501,"l":6.3383,"c":6.3456,"v":29000,"m":31000,"k":"n"},
{"t":"2026-01-16T07:55Z","o":6.345,"h":6.3551,"l":6.3446,"c":6.3531,"v":20000,"m":30000,"k":"n"},
{"t":"2026-01-16T08:00Z","o":6.3526,"h":6.3592,"l":6.3506,"c":6.3562,"v":38000,"m":29000,"k":"u"},
{"t":"2026-01-16T08:05Z","o":6.3562,"h":6.3594,"l":6.3544,"c":6.3549,"v":29000,"m":29000,"k":"d"},
{"t":"2026-01-16T08:10Z","o":6.3539,"h":6.3564,"l":6.3521,"c":6.3557,"v":23000,"m":28000,"k":"n"},
{"t":"2026-01-16T08:15Z","o":6.3572,"h":6.3594,"l":6.3557,"c":6.3559,"v":23000,"m":27000,"k":"n"},
{"t":"2026-01-16T08:20Z","o":6.3567,"h":6.3602,"l":6.3559,"c":6.3562,"v":29000,"m":27000,"k":"d"},
{"t":"2026-01-16T08:25Z","o":6.3572,"h":6.3589,"l":6.3544,"c":6.3559,"v":25000,"m":27000,"k":"u"},
{"t":"2026-01-16T08:30Z","o":6.3579,"h":6.364,"l":6.3572,"c":6.3622,"v":23000,"m":26000,"k":"u"},
{"t":"2026-01-16T08:35Z","o":6.3622,"h":6.3647,"l":6.3577,"c":6.3617,"v":25000,"m":26000,"k":"d"},
{"t":"2026-01-16T08:40Z","o":6.3622,"h":6.3678,"l":6.3587,"c":6.3589,"v":25000,"m":26000,"k":"d"},
{"t":"2026-01-16T08:45Z","o":6.3602,"h":6.3627,"l":6.3557,"c":6.3559,"v":29000,"m":26000,"k":"d"},
{"t":"2026-01-16T08:50Z","o":6.3562,"h":6.3564,"l":6.3494,"c":6.3519,"v":25000,"m":26000,"k":"n"},
{"t":"2026-01-16T08:55Z","o":6.3519,"h":6.3526,"l":6.3468,"c":6.3483,"v":29000,"m":26000,"k":"d"},
{"t":"2026-01-16T09:00Z","o":6.3501,"h":6.3531,"l":6.343,"c":6.3494,"v":45000,"m":29000,"k":"u"},
{"t":"2026-01-16T09:05Z","o":6.3509,"h":6.3519,"l":6.3428,"c":6.343,"v":25000,"m":28000,"k":"n"},
{"t":"2026-01-16T09:10Z","o":6.3428,"h":6.3489,"l":6.3413,"c":6.3474,"v":25000,"m":28000,"k":"n"},
{"t":"2026-01-16T09:15Z","o":6.3464,"h":6.3496,"l":6.343,"c":6.3491,"v":29000,"m":28000,"k":"u"},
{"t":"2026-01-16T09:20Z","o":6.3489,"h":6.3496,"l":6.3436,"c":6.3438,"v":23000,"m":26000,"k":"d"},
{"t":"2026-01-16T09:25Z","o":6.3486,"h":6.3501,"l":6.3413,"c":6.3426,"v":23000,"m":25000,"k":"d"},
{"t":"2026-01-16T09:30Z","o":6.3443,"h":6.3464,"l":6.332,"c":6.3345,"v":36000,"m":27000,"k":"d"},
{"t":"2026-01-16T09:35Z","o":6.335,"h":6.3393,"l":6.3348,"c":6.3365,"v":23000,"m":27000,"k":"n"},
{"t":"2026-01-16T09:40Z","o":6.338,"h":6.3393,"l":6.3358,"c":6.3373,"v":20000,"m":25000,"k":"u"},
{"t":"2026-01-16T09:45Z","o":6.3378,"h":6.3413,"l":6.3375,"c":6.3408,"v":20000,"m":24000,"k":"u"},
{"t":"2026-01-16T09:50Z","o":6.3426,"h":6.3438,"l":6.34,"c":6.3403,"v":16000,"m":23000,"k":"n"},
{"t":"2026-01-16T09:55Z","o":6.3426,"h":6.3433,"l":6.3375,"c":6.3393,"v":16000,"m":20000,"k":"d"},
{"t":"2026-01-16T10:00Z","o":6.3393,"h":6.34,"l":6.3355,"c":6.3388,"v":16000,"m":18000,"k":"n"},
{"t":"2026-01-16T10:05Z","o":6.3388,"h":6.34,"l":6.3368,"c":6.337,"v":16000,"m":18000,"k":"n"},
{"t":"2026-01-16T10:10Z","o":6.3375,"h":6.34,"l":6.3363,"c":6.3368,"v":16000,"m":17000,"k":"n"},
{"t":"2026-01-16T10:15Z","o":6.337,"h":6.3413,"l":6.3315,"c":6.3317,"v":29000,"m":19000,"k":"d"},
{"t":"2026-01-16T10:20Z","o":6.3317,"h":6.3355,"l":6.3312,"c":6.3338,"v":23000,"m":20000,"k":"u"},
{"t":"2026-01-16T10:25Z","o":6.3343,"h":6.3355,"l":6.327,"c":6.3272,"v":20000,"m":21000,"k":"n"},
{"t":"2026-01-16T10:30Z","o":6.3272,"h":6.3338,"l":6.325,"c":6.3335,"v":23000,"m":22000,"k":"u"},
{"t":"2026-01-16T10:35Z","o":6.3322,"h":6.3375,"l":6.3305,"c":6.3312,"v":16000,"m":22000,"k":"n"},
{"t":"2026-01-16T10:40Z","o":6.3307,"h":6.3325,"l":6.3295,"c":6.3302,"v":16000,"m":21000,"k":"d"},
{"t":"2026-01-16T10:45Z","o":6.3302,"h":6.3373,"l":6.33,"c":6.3338,"v":20000,"m":20000,"k":"d"},
{"t":"2026-01-16T10:50Z","o":6.3343,"h":6.3395,"l":6.332,"c":6.3322,"v":29000,"m":21000,"k":"u"},
{"t":"2026-01-16T10:55Z","o":6.3345,"h":6.335,"l":6.3305,"c":6.3307,"v":23000,"m":22000,"k":"d"},
{"t":"2026-01-16T11:00Z","o":6.3315,"h":6.332,"l":6.3254,"c":6.3257,"v":45000,"m":26000,"k":"d"},
{"t":"2026-01-16T11:05Z","o":6.3274,"h":6.3292,"l":6.3247,"c":6.3252,"v":16000,"m":26000,"k":"n"},
{"t":"2026-01-16T11:10Z","o":6.3257,"h":6.3257,"l":6.3186,"c":6.3217,"v":25000,"m":27000,"k":"u"},
{"t":"2026-01-16T11:15Z","o":6.3229,"h":6.3249,"l":6.3217,"c":6.3219,"v":25000,"m":27000,"k":"u"},
{"t":"2026-01-16T11:20Z","o":6.3224,"h":6.3229,"l":6.3166,"c":6.3211,"v":25000,"m":27000,"k":"d"},
{"t":"2026-01-16T11:25Z","o":6.3211,"h":6.3216,"l":6.3181,"c":6.3206,"v":23000,"m":23000,"k":"d"},
{"t":"2026-01-16T11:30Z","o":6.3206,"h":6.3206,"l":6.3161,"c":6.3186,"v":16000,"m":23000,"k":"n"},
{"t":"2026-01-16T11:35Z","o":6.3189,"h":6.3272,"l":6.3186,"c":6.3259,"v":16000,"m":22000,"k":"n"},
{"t":"2026-01-16T11:40Z","o":6.3259,"h":6.3368,"l":6.3257,"c":6.3305,"v":29000,"m":22000,"k":"u"},
{"t":"2026-01-16T11:45Z","o":6.3305,"h":6.3343,"l":6.328,"c":6.3282,"v":20000,"m":21000,"k":"d"},
{"t":"2026-01-16T11:50Z","o":6.3282,"h":6.33,"l":6.3254,"c":6.3257,"v":20000,"m":20000,"k":"d"},
{"t":"2026-01-16T11:55Z","o":6.3267,"h":6.3297,"l":6.3257,"c":6.3259,"v":16000,"m":20000,"k":"n"},
{"t":"2026-01-16T12:00Z","o":6.3262,"h":6.3262,"l":6.3211,"c":6.3252,"v":29000,"m":22000,"k":"u"},
{"t":"2026-01-16T12:05Z","o":6.3257,"h":6.3292,"l":6.3232,"c":6.325,"v":20000,"m":21000,"k":"d"},
{"t":"2026-01-16T12:10Z","o":6.3239,"h":6.3292,"l":6.3232,"c":6.329,"v":20000,"m":21000,"k":"u"},
{"t":"2026-01-16T12:15Z","o":6.3287,"h":6.3292,"l":6.3254,"c":6.3257,"v":16000,"m":21000,"k":"n"},
{"t":"2026-01-16T12:20Z","o":6.3252,"h":6.3282,"l":6.325,"c":6.3272,"v":16000,"m":20000,"k":"n"},
{"t":"2026-01-16T12:25Z","o":6.3257,"h":6.3353,"l":6.3254,"c":6.3348,"v":27000,"m":20000,"k":"u"},
{"t":"2026-01-16T12:30Z","o":6.335,"h":6.3368,"l":6.332,"c":6.3332,"v":16000,"m":19000,"k":"d"},
{"t":"2026-01-16T12:35Z","o":6.3348,"h":6.337,"l":6.3332,"c":6.3343,"v":16000,"m":19000,"k":"d"},
{"t":"2026-01-16T12:40Z","o":6.334,"h":6.3368,"l":6.3325,"c":6.3335,"v":20000,"m":19000,"k":"d"},
{"t":"2026-01-16T12:45Z","o":6.3338,"h":6.3345,"l":6.3317,"c":6.332,"v":11000,"m":18000,"k":"n"},
{"t":"2026-01-16T12:50Z","o":6.3325,"h":6.3343,"l":6.3295,"c":6.332,"v":16000,"m":17000,"k":"d"},
{"t":"2026-01-16T12:55Z","o":6.3322,"h":6.3332,"l":6.3307,"c":6.3317,"v":20000,"m":17000,"k":"d"},
{"t":"2026-01-16T13:00Z","o":6.3317,"h":6.332,"l":6.3219,"c":6.3287,"v":72000,"m":26000,"k":"d"},
{"t":"2026-01-16T13:05Z","o":6.3274,"h":6.332,"l":6.3259,"c":6.3312,"v":14000,"m":27000,"k":"u"},
{"t":"2026-01-16T13:10Z","o":6.3315,"h":6.3317,"l":6.3287,"c":6.329,"v":14000,"m":22000,"k":"u"},
{"t":"2026-01-16T13:15Z","o":6.33,"h":6.333,"l":6.329,"c":6.332,"v":8557,"m":20008,"k":"u"}
    ],
    "callouts": [
      {"s":"6.687","t":"2026-01-16T16:53:20Z","t2":"2026-01-16T17:47:47Z","tc":"2026-01-16T17:20:33Z","b":6.707,"bt":6.716,"bb":6.699},
      {"s":"6.570","t":"2026-01-16T16:53:20Z","t2":"2026-01-16T17:47:47Z","tc":"2026-01-16T17:20:33Z","b":6.59,"bt":6.599,"bb":6.582},
      {"s":"6.449","t":"2026-01-16T16:53:20Z","t2":"2026-01-16T17:47:47Z","tc":"2026-01-16T17:20:33Z","b":6.469,"bt":6.478,"bb":6.461},
      {"s":"6.329","t":"2026-01-16T16:53:20Z","t2":"2026-01-16T17:47:47Z","tc":"2026-01-16T17:20:33Z","b":6.349,"bt":6.3572,"bb":6.3406},
      {"s":"6.210","t":"2026-01-16T16:53:20Z","t2":"2026-01-16T17:47:47Z","tc":"2026-01-16T17:20:33Z","b":6.2295,"bt":6.2377,"bb":6.221}
    ],
    "tails": [
      {"s":"6.687","t":"2026-01-16T16:45Z","p":6.688},{"s":"6.687","t":"2026-01-16T17:00Z","p":6.6995},
      {"s":"6.570","t":"2026-01-16T16:45Z","p":6.571},{"s":"6.570","t":"2026-01-16T17:00Z","p":6.5825},
      {"s":"6.449","t":"2026-01-16T16:45Z","p":6.45},{"s":"6.449","t":"2026-01-16T17:00Z","p":6.4615},
      {"s":"6.329","t":"2026-01-16T16:45Z","p":6.33},{"s":"6.329","t":"2026-01-16T17:00Z","p":6.3411},
      {"s":"6.210","t":"2026-01-16T16:45Z","p":6.211},{"s":"6.210","t":"2026-01-16T17:00Z","p":6.2215}
    ],
    "tags": [
      {"t":"2026-01-16T19:57:26Z","t2":"2026-01-16T21:21:54Z","p":6.7104,"p2":6.6976,"kind":"light"},
      {"t":"2026-01-16T20:33:20Z","t2":"2026-01-16T21:21:54Z","p":6.6924,"p2":6.6796,"kind":"black"},
      {"t":"2026-01-16T20:04:27Z","t2":"2026-01-16T21:21:54Z","p":6.364,"p2":6.3514,"kind":"black"},
      {"t":"2026-01-16T20:05:33Z","t2":"2026-01-16T21:21:54Z","p":6.3496,"p2":6.3386,"kind":"black"},
      {"t":"2026-01-16T20:33:20Z","t2":"2026-01-16T21:21:54Z","p":6.3387,"p2":6.3149,"kind":"black"},
      {"t":"2026-01-16T20:33:20Z","t2":"2026-01-16T21:21:54Z","p":6.3148,"p2":6.302,"kind":"grey"},
      {"t":"2026-01-16T20:33:20Z","t2":"2026-01-16T21:21:54Z","p":6.2726,"p2":6.2598,"kind":"black"},
      {"t":"2026-01-16T20:00:00Z","t2":"2026-01-16T21:21:54Z","p":6.2224,"p2":6.2096,"kind":"light"},
      {"t":"2026-01-16T20:33:20Z","t2":"2026-01-16T21:21:54Z","p":6.2095,"p2":6.197,"kind":"red"},
      {"t":"2026-01-16T20:33:20Z","t2":"2026-01-16T21:55:13Z","p":6.076,"p2":6.0632,"kind":"black"},
      {"t":"2026-01-16T20:33:20Z","t2":"2026-01-16T21:47:47Z","p":6.0629,"p2":6.0503,"kind":"green"}
    ],
    "taglabels": [
      {"t":"2026-01-16T20:43Z","p":6.704,"s":"6.704","kind":"light"},
      {"t":"2026-01-16T20:43Z","p":6.686,"s":"6.686","kind":"dark"},
      {"t":"2026-01-16T20:43Z","p":6.3576,"s":"6.333","kind":"dark"},
      {"t":"2026-01-16T20:43Z","p":6.3447,"s":"6.332","kind":"dark"},
      {"t":"2026-01-16T20:43Z","p":6.3318,"s":"6.332","kind":"dark"},
      {"t":"2026-01-16T20:43Z","p":6.3213,"s":"01:38","kind":"dim"},
      {"t":"2026-01-16T20:43Z","p":6.3084,"s":"6.329","kind":"dark"},
      {"t":"2026-01-16T20:43Z","p":6.2662,"s":"6.266","kind":"dark"},
      {"t":"2026-01-16T20:43Z","p":6.216,"s":"6.216","kind":"light"},
      {"t":"2026-01-16T20:43Z","p":6.2036,"s":"6.210","kind":"dark"},
      {"t":"2026-01-16T20:43Z","p":6.0698,"s":"20,008.000","kind":"dark"},
      {"t":"2026-01-16T20:43Z","p":6.0567,"s":"8,557.000","kind":"dark"}
    ],
    "sidelabels": [
      {"t":"2026-01-16T20:28:53Z","p":6.704,"s":"High","kind":"light"},
      {"t":"2026-01-16T20:28:53Z","p":6.3576,"s":"Ask","kind":"dark"},
      {"t":"2026-01-16T20:28:53Z","p":6.3447,"s":"Bid","kind":"dark"},
      {"t":"2026-01-16T20:28:53Z","p":6.216,"s":"Low","kind":"light"}
    ],
    "hours": [
      {"t":"2026-01-15T11:00Z","p":6.0357,"s":"11:00"},{"t":"2026-01-15T12:00Z","p":6.0357,"s":"12:00"},{"t":"2026-01-15T13:00Z","p":6.0357,"s":"13:00"},{"t":"2026-01-15T14:00Z","p":6.0357,"s":"14:00"},
      {"t":"2026-01-15T15:00Z","p":6.0357,"s":"15:00"},{"t":"2026-01-15T16:00Z","p":6.0357,"s":"16:00"},{"t":"2026-01-15T17:00Z","p":6.0357,"s":"17:00"},{"t":"2026-01-15T18:00Z","p":6.0357,"s":"18:00"},
      {"t":"2026-01-15T19:00Z","p":6.0357,"s":"19:00"},{"t":"2026-01-15T20:00Z","p":6.0357,"s":"20:00"},{"t":"2026-01-15T21:00Z","p":6.0357,"s":"21:00"},{"t":"2026-01-15T22:00Z","p":6.0357,"s":"22:00"},
      {"t":"2026-01-15T23:00Z","p":6.0357,"s":"23:00"},{"t":"2026-01-16T00:00Z","p":6.0357,"s":"16"},{"t":"2026-01-16T01:00Z","p":6.0357,"s":"01:00"},{"t":"2026-01-16T02:00Z","p":6.0357,"s":"02:00"},
      {"t":"2026-01-16T03:00Z","p":6.0357,"s":"03:00"},{"t":"2026-01-16T04:00Z","p":6.0357,"s":"04:00"},{"t":"2026-01-16T05:00Z","p":6.0357,"s":"05:00"},{"t":"2026-01-16T06:00Z","p":6.0357,"s":"06:00"},
      {"t":"2026-01-16T07:00Z","p":6.0357,"s":"07:00"},{"t":"2026-01-16T08:00Z","p":6.0357,"s":"08:00"},{"t":"2026-01-16T09:00Z","p":6.0357,"s":"09:00"},{"t":"2026-01-16T10:00Z","p":6.0357,"s":"10:00"},
      {"t":"2026-01-16T11:00Z","p":6.0357,"s":"11:00"},{"t":"2026-01-16T12:00Z","p":6.0357,"s":"12:00"},{"t":"2026-01-16T13:00Z","p":6.0357,"s":"13:00"},{"t":"2026-01-16T14:00Z","p":6.0357,"s":"14:00"},
      {"t":"2026-01-16T15:00Z","p":6.0357,"s":"15:00"},{"t":"2026-01-16T16:00Z","p":6.0357,"s":"16:00"},{"t":"2026-01-16T17:00Z","p":6.0357,"s":"17:00"},{"t":"2026-01-16T18:00Z","p":6.0357,"s":"18:00"},
      {"t":"2026-01-16T19:00Z","p":6.0357,"s":"19:00"},{"t":"2026-01-16T20:00Z","p":6.0357,"s":"20:00"}
    ]
  },
  "resolve": {"scale": {"y": "independent", "color": "independent"}},
  "layer": [
    {
      "encoding": {
        "x": {
          "field": "t",
          "type": "temporal",
          "scale": {"type": "utc", "padding": 0, "domain": ["2026-01-15T10:46:40Z", "2026-01-16T22:18:54Z"]},
          "axis": {
            "title": null,
            "orient": "bottom",
            "offset": -29,
            "grid": false,
            "ticks": false,
            "labels": false,
            "domainColor": "#131722",
            "domainWidth": 1
          }
        },
        "y": {
          "field": "p",
          "type": "quantitative",
          "scale": {"domain": [6.0236, 6.7649], "nice": false, "zero": false},
          "axis": {
            "title": null,
            "orient": "right",
            "offset": -95,
            "grid": false,
            "tickSize": 0,
            "values": [6.25, 6.3, 6.35, 6.4, 6.45, 6.5, 6.55, 6.6, 6.65, 6.7],
            "format": ".3f",
            "labelAlign": "left",
            "labelPadding": 8,
            "labelFontSize": 12,
            "labelColor": "#131722",
            "labelOverlap": false,
            "labelBound": false,
            "domainColor": "#131722",
            "domainWidth": 1
          }
        }
      },
      "layer": [
        {
          "data": {"values": [{"t": "2026-01-15T10:46:40Z", "t2": "2026-01-16T20:33:20Z", "p": 6.266}]},
          "mark": {"type": "rule", "color": "#000000", "strokeWidth": 2},
          "encoding": {"x2": {"field": "t2"}}
        },
        {
          "data": {"values": [{"t": "2026-01-15T10:46:40Z", "t2": "2026-01-16T20:33:20Z", "p": 6.332}]},
          "mark": {"type": "rule", "color": "#000000", "strokeWidth": 1, "strokeDash": [1, 4]},
          "encoding": {"x2": {"field": "t2"}}
        },
        {
          "data": {"values": [{"t": "2026-01-16T13:15Z", "t2": "2026-01-16T16:45:33Z", "p": 6.687, "p2": 6.329}]},
          "mark": {"type": "rect", "color": "#000000", "opacity": 0.13},
          "encoding": {"x2": {"field": "t2"}, "y2": {"field": "p2"}}
        },
        {
          "data": {"values": [{"t": "2026-01-16T13:15Z", "t2": "2026-01-16T16:45:33Z", "p": 6.329, "p2": 6.21}]},
          "mark": {"type": "rect", "color": "#f23645", "opacity": 0.353},
          "encoding": {"x2": {"field": "t2"}, "y2": {"field": "p2"}}
        },
        {
          "data": {"values": [{"t": "2026-01-16T13:15Z", "t2": "2026-01-16T16:45:33Z", "p": 6.329}]},
          "mark": {"type": "rule", "color": "#999999", "strokeWidth": 1.5},
          "encoding": {"x2": {"field": "t2"}}
        },
        {
          "data": {"values": [{"t": "2026-01-16T05:00Z", "t2": "2026-01-16T15:00Z", "p": 6.3285, "p2": 6.216}]},
          "mark": {"type": "rect", "color": "#818181", "opacity": 0.35},
          "encoding": {"x2": {"field": "t2"}, "y2": {"field": "p2"}}
        },
        {
          "data": {"values": [{"t": "2026-01-16T05:00Z", "t2": "2026-01-16T15:00Z", "p": 6.3285, "p2": 6.216}]},
          "mark": {"type": "rect", "fillOpacity": 0, "stroke": "#000000", "strokeWidth": 1.4},
          "encoding": {"x2": {"field": "t2"}, "y2": {"field": "p2"}}
        },
        {
          "data": {"values": [{"t": "2026-01-16T05:00Z", "t2": "2026-01-16T15:00Z", "p": 6.2722}]},
          "mark": {"type": "rule", "color": "#000000", "strokeWidth": 1, "strokeDash": [5, 5]},
          "encoding": {"x2": {"field": "t2"}}
        },
        {
          "data": {"name": "bars"},
          "mark": {"type": "rule", "color": "#000000", "strokeWidth": 1},
          "encoding": {"y": {"field": "l", "type": "quantitative"}, "y2": {"field": "h"}}
        },
        {
          "data": {"name": "bars"},
          "mark": {"type": "bar", "width": 2, "stroke": "#000000", "strokeWidth": 1},
          "encoding": {
            "y": {"field": "o", "type": "quantitative", "stack": null},
            "y2": {"field": "c"},
            "fill": {"condition": {"test": "datum.c > datum.o", "value": "#ffffff"}, "value": "#000000"}
          }
        }
      ]
    },
    {
      "encoding": {"x": {"field": "t", "type": "temporal", "scale": {"type": "utc", "padding": 0, "domain": ["2026-01-15T10:46:40Z", "2026-01-16T22:18:54Z"]}, "axis": null}},
      "layer": [
        {
          "data": {"name": "bars"},
          "mark": {"type": "bar", "width": 3},
          "encoding": {
            "y": {
              "field": "v",
              "type": "quantitative",
              "stack": null,
              "scale": {"domain": [-290500, 6331000], "nice": false, "zero": false},
              "axis": {
                "title": null,
                "orient": "right",
                "offset": -95,
                "grid": false,
                "tickSize": 0,
                "domain": false,
                "values": [250000, 500000, 750000],
                "format": ",.3f",
                "labelAlign": "left",
                "labelPadding": 8,
                "labelFontSize": 12,
                "labelColor": "#131722",
                "labelOverlap": false,
                "labelBound": false
              }
            },
            "color": {
              "field": "k",
              "type": "nominal",
              "legend": null,
              "scale": {"domain": ["d", "u", "n"], "range": ["#000000", "#4caf50", "#b2b5be"]}
            }
          }
        },
        {
          "data": {"name": "bars"},
          "mark": {"type": "line", "color": "#131722", "strokeWidth": 1, "interpolate": "linear"},
          "encoding": {"y": {"field": "m", "type": "quantitative"}}
        }
      ]
    },
    {
      "encoding": {
        "x": {"field": "t", "type": "temporal", "scale": {"type": "utc", "padding": 0, "domain": ["2026-01-15T10:46:40Z", "2026-01-16T22:18:54Z"]}, "axis": null},
        "y": {"field": "p", "type": "quantitative", "axis": null, "scale": {"domain": [6.0236, 6.7649], "nice": false, "zero": false}}
      },
      "layer": [
        {
          "data": {"name": "hours"},
          "mark": {"type": "text", "align": "center", "fontSize": 12, "color": "#131722"},
          "encoding": {"text": {"field": "s"}}
        },
        {
          "data": {"values": [
            {"t": "2026-01-15T10:46:40Z", "t2": "2026-01-16T20:33:20Z", "p": 6.155}
          ]},
          "mark": {"type": "rule", "color": "#00bcd4", "strokeWidth": 1},
          "encoding": {"x2": {"field": "t2"}}
        },
        {
          "data": {"values": [
            {"t": "2026-01-15T10:46:40Z", "t2": "2026-01-16T22:18:54Z", "p": 6.7644},
            {"t": "2026-01-15T10:46:40Z", "t2": "2026-01-16T22:18:54Z", "p": 6.0241}
          ]},
          "mark": {"type": "rule", "color": "#2f3d2f", "strokeWidth": 1.5},
          "encoding": {"x2": {"field": "t2"}}
        },
        {
          "data": {"name": "callouts"},
          "mark": {"type": "rect", "color": "#000000", "cornerRadius": 4},
          "encoding": {
            "x2": {"field": "t2"},
            "y": {"field": "bt", "type": "quantitative"},
            "y2": {"field": "bb"}
          }
        },
        {
          "data": {"name": "tails"},
          "mark": {"type": "line", "color": "#000000", "strokeWidth": 3},
          "encoding": {"detail": {"field": "s"}}
        },
        {
          "data": {"name": "tails"},
          "transform": [{"filter": "utcminutes(datum.t)==45"}],
          "mark": {"type": "point", "filled": true, "color": "#000000", "size": 22, "opacity": 1}
        },
        {
          "data": {"name": "callouts"},
          "mark": {"type": "text", "color": "#ffffff", "fontSize": 10.5, "fontWeight": "bold", "align": "center"},
          "encoding": {
            "x": {"field": "tc", "type": "temporal"},
            "y": {"field": "b", "type": "quantitative"},
            "text": {"field": "s"}
          }
        },
        {
          "data": {"name": "tags"},
          "mark": {"type": "rect", "cornerRadius": 1},
          "encoding": {
            "x2": {"field": "t2"},
            "y2": {"field": "p2"},
            "color": {
              "field": "kind",
              "type": "nominal",
              "legend": null,
              "scale": {"domain": ["light", "black", "grey", "red", "green"], "range": ["#e3effd", "#000000", "#808080", "#f23645", "#4caf50"]}
            }
          }
        },
        {
          "data": {"name": "taglabels"},
          "mark": {"type": "text", "align": "left", "fontSize": 12},
          "encoding": {
            "text": {"field": "s"},
            "fill": {"condition": [
              {"test": "datum.kind==='light'", "value": "#131722"},
              {"test": "datum.kind==='dim'", "value": "#b0b0b0"}
            ], "value": "#ffffff"}
          }
        },
        {
          "data": {"name": "sidelabels"},
          "mark": {"type": "text", "align": "right", "fontSize": 12},
          "encoding": {
            "text": {"field": "s"},
            "fill": {"condition": {"test": "datum.kind==='light'", "value": "#131722"}, "value": "#ffffff"}
          }
        },
        {
          "data": {"values": [{"t": "2026-01-15T11:06:40Z", "p": 6.7518}]},
          "mark": {"type": "point", "filled": true, "color": "#e84142", "size": 260, "opacity": 1}
        },
        {
          "data": {"values": [{"t": "2026-01-15T11:06:40Z", "p": 6.7518}]},
          "mark": {"type": "point", "filled": true, "shape": "triangle-up", "color": "#ffffff", "size": 55, "opacity": 1}
        },
        {
          "data": {"values": [{"t": "2026-01-15T18:34:27Z", "p": 6.7518}]},
          "mark": {"type": "point", "filled": true, "color": "#c8ece6", "size": 250, "opacity": 1}
        },
        {
          "data": {"values": [{"t": "2026-01-15T18:34:27Z", "p": 6.7518}]},
          "mark": {"type": "point", "filled": true, "color": "#4db6a2", "size": 70, "opacity": 1}
        },
        {
          "data": {"values": [
            {"t": "2026-01-15T11:21:07Z", "p": 6.7518, "s": "AVAX / TetherUS PERPETUAL CONTRACT · 5 · Binance"}
          ]},
          "mark": {"type": "text", "align": "left", "fontSize": 15, "color": "#131722"},
          "encoding": {"text": {"field": "s"}}
        },
        {
          "data": {"values": [
            {"t": "2026-01-15T18:52:13Z", "p": 6.7518, "s": "O6.330  H6.333  L6.329  C6.332  +0.003 (+0.05%)"}
          ]},
          "mark": {"type": "text", "align": "left", "fontSize": 13, "color": "#131722"},
          "encoding": {"text": {"field": "s"}}
        },
        {
          "data": {"values": [{"t": "2026-01-15T10:56:54Z", "t2": "2026-01-15T11:57:33Z", "p": 6.7399, "p2": 6.7142}]},
          "mark": {"type": "rect", "fill": "#ffffff", "stroke": "#f23645", "strokeWidth": 1, "cornerRadius": 5},
          "encoding": {"x2": {"field": "t2"}, "y2": {"field": "p2"}}
        },
        {
          "data": {"values": [{"t": "2026-01-15T12:42:53Z", "t2": "2026-01-15T13:43:00Z", "p": 6.7399, "p2": 6.7142}]},
          "mark": {"type": "rect", "fill": "#ffffff", "stroke": "#2962ff", "strokeWidth": 1, "cornerRadius": 5},
          "encoding": {"x2": {"field": "t2"}, "y2": {"field": "p2"}}
        },
        {
          "data": {"values": [
            {"t": "2026-01-15T11:27:13Z", "p": 6.7324, "s": "6.332"},
            {"t": "2026-01-15T11:27:13Z", "p": 6.7218, "s": "SELL"}
          ]},
          "mark": {"type": "text", "align": "center", "fontSize": 11.5, "color": "#f23645"},
          "encoding": {"text": {"field": "s"}}
        },
        {
          "data": {"values": [
            {"t": "2026-01-15T13:12:53Z", "p": 6.7324, "s": "6.333"},
            {"t": "2026-01-15T13:12:53Z", "p": 6.7218, "s": "BUY"}
          ]},
          "mark": {"type": "text", "align": "center", "fontSize": 11.5, "color": "#2962ff"},
          "encoding": {"text": {"field": "s"}}
        },
        {
          "data": {"values": [{"t": "2026-01-15T12:05:33Z", "p": 6.7274, "s": "0.001"}]},
          "mark": {"type": "text", "align": "left", "fontSize": 10.5, "color": "#131722"},
          "encoding": {"text": {"field": "s"}}
        },
        {
          "data": {"values": [
            {"t": "2026-01-15T10:57:00Z", "t2": "2026-01-15T11:31:54Z", "p": 6.7087, "p2": 6.6936},
            {"t": "2026-01-15T10:56:40Z", "t2": "2026-01-15T11:28:54Z", "p": 6.162, "p2": 6.1469}
          ]},
          "mark": {"type": "rect", "fill": "#ffffff", "stroke": "#e0e3eb", "strokeWidth": 1, "cornerRadius": 3},
          "encoding": {"x2": {"field": "t2"}, "y2": {"field": "p2"}}
        },
        {
          "data": {"values": [
            {"t": "2026-01-15T11:08:12Z", "p": 6.7011},
            {"t": "2026-01-15T11:12:48Z", "p": 6.1545},
            {"t": "2026-01-16T22:06:40Z", "p": 6.7515}
          ]},
          "mark": {"type": "point", "shape": "M-1,-0.5L0,0.5L1,-0.5", "filled": false, "size": 50, "color": "#131722", "strokeWidth": 1, "opacity": 1}
        },
        {
          "data": {"values": [{"t": "2026-01-15T11:22:48Z", "p": 6.7011, "s": "3"}]},
          "mark": {"type": "text", "align": "center", "fontSize": 12, "color": "#131722"},
          "encoding": {"text": {"field": "s"}}
        },
        {
          "data": {"values": [{"t": "2026-01-15T11:56:40Z", "p": 6.155}]},
          "mark": {"type": "point", "filled": true, "color": "#e8dcff", "size": 200, "opacity": 1}
        },
        {
          "data": {"values": [{"t": "2026-01-15T11:56:40Z", "p": 6.155}]},
          "mark": {"type": "point", "filled": false, "color": "#9c7fe8", "size": 70, "strokeWidth": 1.2, "opacity": 1}
        },
        {
          "data": {"values": [
            {"t": "2026-01-16T19:11:07Z", "p": 6.155, "s": "v4"},
            {"t": "2026-01-16T19:56:00Z", "p": 6.155, "s": "P4 Provider"}
          ]},
          "mark": {"type": "text", "align": "center", "fontSize": 8, "color": "#c3c6cf"},
          "encoding": {"text": {"field": "s"}}
        },
        {
          "data": {"values": [{"t": "2026-01-16T19:24:27Z", "p": 6.155}]},
          "mark": {"type": "point", "filled": false, "color": "#7e6bd8", "size": 45, "strokeWidth": 1.2, "opacity": 1}
        },
        {
          "data": {"values": [{"t": "2026-01-16T19:40:00Z", "p": 6.0828, "s": "Asian:"}]},
          "mark": {"type": "text", "align": "right", "fontSize": 9, "color": "#f23645"},
          "encoding": {"text": {"field": "s"}}
        },
        {
          "data": {"values": [{"t": "2026-01-16T19:41:07Z", "p": 6.0629, "s": "NYork:"}]},
          "mark": {"type": "text", "align": "right", "fontSize": 9, "color": "#66bb6a"},
          "encoding": {"text": {"field": "s"}}
        },
        {
          "data": {"values": [{"t": "2026-01-16T19:57:47Z", "t2": "2026-01-16T20:13:20Z", "p": 6.0894, "p2": 6.0788}]},
          "mark": {"type": "rect", "color": "#66bb6a", "cornerRadius": 2},
          "encoding": {"x2": {"field": "t2"}, "y2": {"field": "p2"}}
        },
        {
          "data": {"values": [{"t": "2026-01-16T20:05:33Z", "p": 6.0841, "s": "✓"}]},
          "mark": {"type": "text", "align": "center", "font": "DejaVu Sans", "fontSize": 11, "fontWeight": "bold", "color": "#ffffff"},
          "encoding": {"text": {"field": "s"}}
        },
        {
          "data": {"values": [{"t": "2026-01-16T20:05:33Z", "p": 6.0637}]},
          "mark": {"type": "point", "filled": true, "shape": "cross", "angle": 45, "color": "#f4587f", "size": 190, "opacity": 1}
        },
        {
          "data": {"values": [{"t": "2026-01-16T21:27:13Z", "p": 6.0344}]},
          "mark": {"type": "point", "filled": false, "shape": "M-1,0L-0.5,-0.87L0.5,-0.87L1,0L0.5,0.87L-0.5,0.87Z", "size": 225, "color": "#131722", "strokeWidth": 1, "opacity": 1}
        },
        {
          "data": {"values": [{"t": "2026-01-16T21:27:13Z", "p": 6.0344}]},
          "mark": {"type": "point", "filled": false, "size": 14, "color": "#131722", "strokeWidth": 1, "opacity": 1}
        },
        {
          "data": {"values": [{"t": "2026-01-16T20:37:47Z", "t2": "2026-01-16T22:15:13Z", "p": 6.7611, "p2": 6.7417}]},
          "mark": {"type": "rect", "fill": "#ffffff", "fillOpacity": 0, "stroke": "#e0e3eb", "strokeWidth": 1, "cornerRadius": 4},
          "encoding": {"x2": {"field": "t2"}, "y2": {"field": "p2"}}
        },
        {
          "data": {"values": [{"t": "2026-01-16T20:42:13Z", "p": 6.7515, "s": "USDT"}]},
          "mark": {"type": "text", "align": "left", "fontSize": 12, "color": "#0b2a5c"},
          "encoding": {"text": {"field": "s"}}
        },
        {
          "data": {"values": [
            {"t": "2026-01-15T11:00:00Z", "t2": "2026-01-15T11:16:40Z", "p": 6.0675, "p2": 6.0629},
            {"t": "2026-01-15T11:07:47Z", "t2": "2026-01-15T11:16:40Z", "p": 6.0675, "p2": 6.0561}
          ]},
          "mark": {"type": "rect", "color": "#000000"},
          "encoding": {"x2": {"field": "t2"}, "y2": {"field": "p2"}}
        },
        {
          "data": {"values": [{"t": "2026-01-15T11:20:00Z", "p": 6.0652}]},
          "mark": {"type": "point", "filled": true, "color": "#000000", "size": 28, "opacity": 1}
        },
        {
          "data": {"values": [
            {"t": "2026-01-15T11:28:53Z", "p": 6.0675},
            {"t": "2026-01-15T11:22:13Z", "p": 6.0561}
          ]},
          "mark": {"type": "line", "color": "#000000", "strokeWidth": 5.5}
        },
        {
          "data": {"values": [
            {"t": "2026-01-15T11:41:07Z", "p": 6.0614, "s": "TradingView"}
          ]},
          "mark": {"type": "text", "align": "left", "font": "Roboto", "fontSize": 22, "fontWeight": 500, "color": "#ffffff", "stroke": "#ffffff", "strokeWidth": 3},
          "encoding": {"text": {"field": "s"}}
        },
        {
          "data": {"values": [
            {"t": "2026-01-15T11:41:07Z", "p": 6.0614, "s": "TradingView"}
          ]},
          "mark": {"type": "text", "align": "left", "font": "Roboto", "fontSize": 22, "fontWeight": 500, "color": "#000000"},
          "encoding": {"text": {"field": "s"}}
        }
      ]
    }
  ]
}
